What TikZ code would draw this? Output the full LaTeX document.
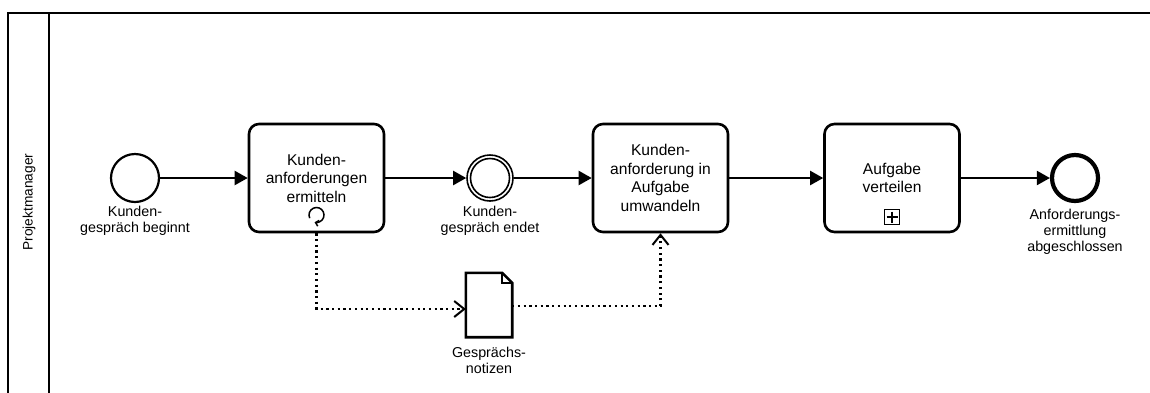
\documentclass[tikz,border=0pt]{standalone}
\usepackage{fontspec}
\setmainfont{Liberation Sans}
\usetikzlibrary{arrows.meta,calc}
\begin{document}
\begin{tikzpicture}[x=1pt,y=-1pt,
  task/.style={draw, line width=2.6pt, rounded corners=10pt, minimum width=135pt,
    minimum height=108pt, inner sep=0pt, align=center,
    font=\fontsize{15.6}{18.5}\selectfont},
  startev/.style={circle, draw, line width=2.2pt, minimum size=48pt, inner sep=0pt},
  endev/.style={circle, draw, line width=4.2pt, minimum size=46pt, inner sep=0pt},
  midev/.style={circle, draw, line width=1.6pt, minimum size=46pt, inner sep=0pt},
  lbl/.style={align=center, inner sep=0pt, font=\fontsize{14.3}{16}\selectfont},
  flow/.style={line width=2.1pt, -{Triangle[length=13pt,width=14pt]}},
  assoc/.style={line width=2.2pt, dash pattern=on 2.2pt off 3.5pt,
    -{Straight Barb[length=10pt,width=16pt,line width=2pt]}},
]
\useasboundingbox (0,0) rectangle (1150,392);
\clip (0,0) rectangle (1150,392);

% pool and lane header
\draw[line width=2.6pt] (1155,13) -- (8,13) -- (8,400);
\draw[line width=2.6pt] (49,13) -- (49,400);
\node[rotate=90, inner sep=0pt, font=\fontsize{13.7}{16}\selectfont] (lane) at (29,202) {Projektmanager};

% events, tasks and data object
\node[startev] (start) at (135,178) {};
\node[task] (t1) at (316.5,178) {Kunden-\\anforderungen\\ermitteln};
\node[midev] (mid) at (490,178) {};
\draw[line width=1.6pt] (mid.center) circle (19.5);
\node[task] (t2) at (660.5,178) {Kunden-\\anforderung in\\Aufgabe\\umwandeln};
\node[task] (t3) at (892,178) {Aufgabe\\verteilen};
\node[endev] (end) at (1075,178) {};
\node[minimum width=46pt, minimum height=64pt, inner sep=0pt] (data) at (489,305) {};
\draw[line width=2.6pt, line join=miter]
  (data.north west) -- ($(data.north east)+(-10,0)$) -- ($(data.north east)+(0,10)$)
  -- (data.south east) -- (data.south west) -- cycle;
\draw[line width=1.6pt] ($(data.north east)+(-10,0)$) |- ($(data.north east)+(0,10)$);

% loop marker (open ring with its arrow at the lower left)
\draw[line width=1.5pt, -{Straight Barb[length=3pt,width=6pt]}]
  ($(t1.center)+(0,37)+(155:7.5)$) arc[start angle=155, end angle=465, radius=7.5];

% collapsed sub-process marker
\draw[line width=1.3pt] (884.5,209.5) rectangle (899.5,224.5);
\draw[line width=2.2pt] (886.5,217) -- (897.5,217) (892,211.5) -- (892,222.5);

% labels
\node[lbl] (lstart) at (135,221) {Kunden-\\gespräch beginnt};
\node[lbl] (lmid) at (490,221) {Kunden-\\gespräch endet};
\node[lbl] (lend) at (1075,232) {Anforderungs-\\ermittlung\\abgeschlossen};
\node[lbl] (ldata) at (489,360) {Gesprächs-\\notizen};

% sequence flows
\draw[flow] (start) -- (t1);
\draw[flow] (t1) -- (mid);
\draw[flow] (mid) -- (t2);
\draw[flow] (t2) -- (t3);
\draw[flow] (t3) -- (end);

% data associations
\draw[assoc] (t1.south) |- ($(data.west)+(0,4)$);
\draw[assoc] ($(data.east)+(0,1)$) -| (t2.south);
\end{tikzpicture}
\end{document}
